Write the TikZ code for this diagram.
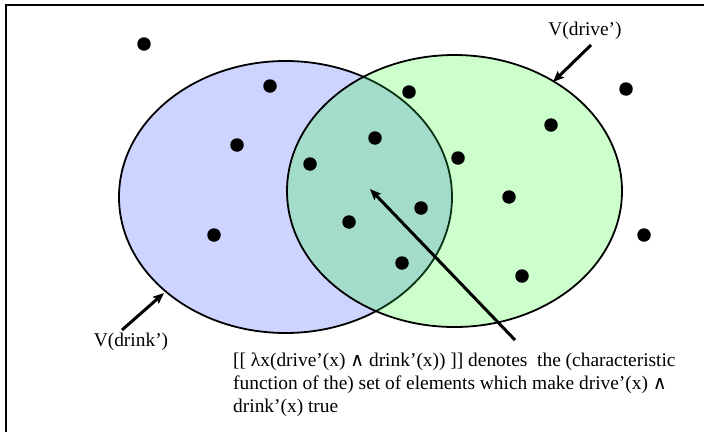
\documentclass[tikz,border=0pt]{standalone}
\usepackage{fontspec}
\setmainfont{Liberation Serif}
\newfontfamily\dvsans{DejaVu Sans}
\usetikzlibrary{arrows.meta}
\definecolor{bluefill}{RGB}{204,212,255}
\definecolor{greenfill}{RGB}{204,255,204}
\definecolor{midfill}{RGB}{163,220,203}
\definecolor{darkedge}{RGB}{10,50,20}
\newcommand{\andsym}{{\dvsans\fontsize{19}{19}\selectfont ∧}}
\begin{document}
\begin{tikzpicture}[x=1pt,y=-1pt,
  dot/.style={circle,fill=black,inner sep=0pt,minimum size=13.5pt},
  lbl/.style={font=\fontsize{19.4}{23}\selectfont, inner sep=0pt},
  pointer/.style={line width=3pt,-{Stealth[length=11pt,width=9pt,inset=2pt]}},
  rim/.style={line width=1.8pt}]
\useasboundingbox (0,0) rectangle (704,431);
\fill[white] (0,0) rectangle (704,431);
\draw[line width=2.5pt] (6,440) -- (6,5) -- (710,5);
% sets
\def\blueell{(285.5,197) ellipse [x radius=166.5pt, y radius=136pt]}
\def\greenell{(454.5,191) ellipse [x radius=167.5pt, y radius=136pt]}
\fill[bluefill] \blueell;
\draw[rim] \blueell;
\fill[greenfill] \greenell;
\begin{scope}
  \clip \blueell;
  \fill[midfill] \greenell;
\end{scope}
\begin{scope}
  \clip \greenell;
  \draw[rim,darkedge] \blueell;
\end{scope}
\draw[rim] \greenell;
% elements
\node[dot] (e1) at (144,44) {};
\node[dot] (e2) at (270,86) {};
\node[dot] (e3) at (237,145) {};
\node[dot] (e4) at (214,235) {};
\node[dot] (e5) at (409,92) {};
\node[dot] (e6) at (375,138) {};
\node[dot] (e7) at (310,164) {};
\node[dot] (e8) at (458,158) {};
\node[dot] (e9) at (551,125) {};
\node[dot] (e10) at (626,89) {};
\node[dot] (e11) at (509,197) {};
\node[dot] (e12) at (421,208) {};
\node[dot] (e13) at (349,222) {};
\node[dot] (e14) at (402,263) {};
\node[dot] (e15) at (644,235) {};
\node[dot] (e16) at (522,276) {};
% labels
\node[lbl] (vdrive) at (585,31) {V(drive’)};
\node[lbl] (vdrink) at (131,342) {V(drink’)};
\node[lbl, anchor=north west, align=left] (caption) at (233,352.6)
  {[[ λx(drive’(x) \andsym{} drink’(x)) ]] denotes\ \ the (characteristic\\
   function of the) set of elements which make drive’(x) \andsym\\
   drink’(x) true};
% pointers
\coordinate (drivetail) at (591,45);
\coordinate (drivetip) at (553,82);
\coordinate (drinktail) at (122,330);
\coordinate (drinktip) at (164,293);
\coordinate (captail) at (515,340);
\coordinate (captip) at (370,189);
\draw[pointer] (drivetail) -- (drivetip);
\draw[pointer] (drinktail) -- (drinktip);
\draw[pointer] (captail) -- (captip);
\end{tikzpicture}
\end{document}
